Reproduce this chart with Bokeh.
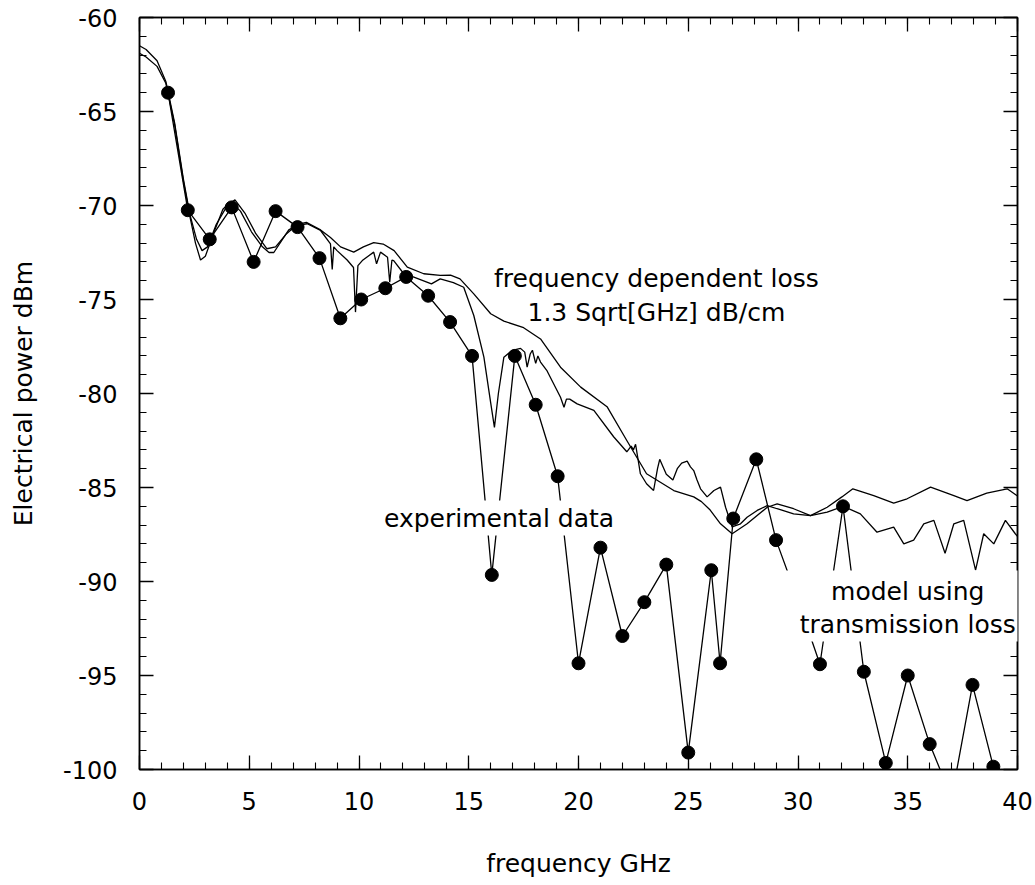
from bokeh.plotting import figure
from bokeh.models import (Range1d, FixedTicker, LinearAxis, Label, BoxAnnotation,
                          CustomJSTickFormatter)
from bokeh.embed import file_html
from bokeh.resources import INLINE

# ---------------- data ----------------
exp_freq = [1.3, 2.2, 3.2, 4.2, 5.2, 6.2, 7.2, 8.2, 9.15, 10.1, 11.2, 12.15, 13.15, 14.15,
            15.15, 16.05, 17.1, 18.05, 19.05, 20.0, 21.0, 22.0, 23.0, 24.0, 25.0, 26.05,
            26.45, 27.05, 28.1, 29.0, 30.0, 31.0, 32.05, 33.0, 34.0, 35.0, 36.0, 37.0,
            37.95, 38.9]
exp_power = [-64.0, -70.25, -71.8, -70.1, -73.0, -70.3, -71.15, -72.8, -76.0, -75.0, -74.4,
             -73.8, -74.8, -76.2, -78.0, -89.65, -78.0, -80.6, -84.4, -94.35, -88.2, -92.9,
             -91.1, -89.1, -99.1, -89.4, -94.35, -86.65, -83.5, -87.8, -91.0, -94.4, -86.0,
             -94.8, -99.65, -95.0, -98.65, -101.5, -95.5, -99.85]

fdl_freq = [0, 0.3, 0.8, 1.2, 1.6, 2.0, 2.3, 2.6, 2.85, 3.1, 3.5, 4.0, 4.35, 4.8, 5.3, 5.8,
            6.2, 6.7, 7.2, 7.6, 8.25, 8.7, 9.16, 9.76, 10.2, 10.67, 11.1, 11.6, 12.2, 12.95,
            13.7, 14.17, 14.6, 15.23, 16.0, 16.6, 17.5, 18.27, 19.18, 20.1, 21.3, 22.2,
            23.1, 24.34, 25.25, 25.6, 26.0, 26.47, 27.0, 27.68, 28.6, 29.05, 29.8, 30.57,
            31.33, 32.0, 32.5, 33.45, 34.36, 34.97, 36.04, 37.1, 37.7, 38.6, 39.53, 40]
fdl_power = [-61.5, -61.7, -62.3, -63.4, -65.6, -68.6, -70.5, -71.8, -72.4, -72.2, -71.0,
             -70.0, -69.7, -70.4, -71.5, -72.3, -72.2, -71.5, -71.0, -70.9, -71.3, -71.7,
             -72.2, -72.48, -72.2, -71.98, -72.05, -72.4, -73.28, -73.63, -73.72, -73.7,
             -73.9, -74.7, -75.76, -76.15, -76.5, -77.1, -78.6, -79.66, -80.7, -82.5,
             -84.27, -85.16, -85.5, -85.75, -86.2, -86.93, -87.46, -86.93, -86.05, -85.87,
             -86.13, -86.5, -86.05, -85.5, -85.07, -85.43, -85.83, -85.6, -84.98, -85.43,
             -85.7, -85.3, -85.07, -85.45]

tl_freq = [0, 0.3, 0.8, 1.2, 1.6, 2.0, 2.3, 2.55, 2.78, 3.0, 3.4, 3.8, 4.15, 4.6, 5.1, 5.6,
           5.9, 6.12, 6.4, 6.8, 7.18, 7.64, 8.25, 8.7, 8.78, 8.85, 9.0, 9.46, 9.75, 9.84,
           9.95, 10.15, 10.67, 10.8, 10.98, 11.3, 11.4, 11.5, 11.58, 12.04, 12.5, 13.3,
           13.7, 14.3, 14.77, 15.23, 15.69, 16.0, 16.17, 16.35, 16.6, 16.98, 17.36, 17.55,
           17.66, 17.8, 17.9, 18.05, 18.15, 18.27, 18.57, 19.18, 19.34, 19.45, 19.6, 19.94,
           20.7, 21.6, 22.2, 22.4, 22.5, 22.6, 22.82, 23.1, 23.42, 23.6, 23.7, 23.85, 24.0,
           24.3, 24.5, 24.7, 24.95, 25.1, 25.25, 25.4, 25.56, 25.86, 26.17, 26.47, 26.7,
           27.0, 27.38, 27.68, 28.14, 28.6, 29.05, 29.8, 30.57, 31.33, 32.06, 32.84, 33.6,
           34.36, 34.82, 35.27, 35.73, 36.19, 36.7, 37.1, 37.55, 38.09, 38.46, 38.92,
           39.45, 39.9, 40]
tl_power = [-61.9, -62.1, -62.6, -63.5, -65.7, -68.7, -70.6, -72.0, -72.9, -72.7, -71.4,
            -70.2, -69.8, -70.3, -71.4, -72.2, -72.5, -72.5, -72.0, -71.3, -71.06, -70.97,
            -71.33, -72.04, -73.4, -72.2, -72.4, -72.9, -73.3, -75.67, -73.2, -72.93,
            -72.48, -73.1, -72.48, -72.75, -74.08, -72.9, -72.93, -73.63, -73.81, -74.17,
            -73.9, -74.1, -74.35, -75.85, -78.07, -80.5, -81.8, -80.0, -78.07, -77.7,
            -77.6, -77.8, -78.6, -77.9, -77.7, -78.4, -78.0, -78.33, -78.8, -80.2, -80.73,
            -80.3, -80.3, -80.55, -80.9, -82.3, -83.1, -82.8, -83.0, -82.7, -84.27, -84.8,
            -85.16, -84.0, -83.5, -83.9, -84.3, -84.6, -84.0, -83.7, -83.6, -83.9, -84.1,
            -84.6, -85.07, -85.5, -85.16, -84.98, -86.05, -87.1, -86.93, -86.58, -86.22,
            -85.96, -86.13, -86.4, -86.5, -86.31, -86.0, -86.4, -87.38, -87.11, -88.0,
            -87.8, -86.93, -86.75, -88.5, -86.93, -86.75, -89.4, -87.46, -88.0, -86.75,
            -87.46, -87.6]

x_major = [0, 5, 10, 15, 20, 25, 30, 35, 40]
y_major = [-100, -95, -90, -85, -80, -75, -70, -65, -60]
y_labels = ["-100", "-95", "-90", "-85", "-80", "-75", "-70", "-65", "-60"]

FONT = "DejaVu Sans"

p = figure(width=1035, height=885, x_range=Range1d(0, 40), y_range=Range1d(-100, -60),
           output_backend="svg", toolbar_location=None,
           min_border_left=139, min_border_right=18, min_border_top=17,
           min_border_bottom=116)
p.xgrid.visible = False
p.ygrid.visible = False
p.outline_line_color = "black"
p.outline_line_width = 1.5
p.background_fill_color = "white"
p.border_fill_color = "white"

xt = FixedTicker(ticks=x_major, minor_ticks=list(range(0, 41)))
yt = FixedTicker(ticks=y_major, minor_ticks=list(range(-100, -59)))


def style_axis(ax):
    ax.axis_line_color = "black"
    ax.axis_line_width = 1.5
    ax.major_tick_in = 14
    ax.major_tick_out = 0
    ax.minor_tick_in = 7
    ax.minor_tick_out = 0
    ax.major_tick_line_color = "black"
    ax.minor_tick_line_color = "black"
    ax.major_tick_line_width = 1.3
    ax.minor_tick_line_width = 1.1
    ax.major_label_text_font = FONT
    ax.major_label_text_font_size = "24px"
    ax.major_label_text_color = "black"
    ax.axis_label_text_font = FONT
    ax.axis_label_text_font_size = "25px"
    ax.axis_label_text_font_style = "normal"
    ax.axis_label_text_color = "black"


p.xaxis.ticker = xt
p.yaxis.ticker = yt
style_axis(p.xaxis[0])
style_axis(p.yaxis[0])
p.yaxis.major_label_overrides = {v: s for v, s in zip(y_major, y_labels)}
p.xaxis.axis_label = "frequency GHz"
p.yaxis.axis_label = "Electrical power dBm"
p.xaxis.major_label_standoff = 22
p.xaxis.axis_label_standoff = 36
p.yaxis.major_label_standoff = 22
p.yaxis.axis_label_standoff = 22

blank = CustomJSTickFormatter(code="return ''")
for loc, tk in (("right", yt), ("above", xt)):
    ax = LinearAxis(ticker=tk, formatter=blank)
    style_axis(ax)
    ax.major_label_text_font_size = "1px"
    ax.major_label_standoff = 0
    p.add_layout(ax, loc)

# model curves
p.line(fdl_freq, fdl_power, line_color="black", line_width=1.3)
p.line(tl_freq, tl_power, line_color="black", line_width=1.3)

# experimental data
p.line(exp_freq, exp_power, line_color="black", line_width=1.3)
p.scatter(exp_freq, exp_power, marker="circle", size=13, fill_color="black",
          line_color="black")

# white masks under the in-plot labels
p.add_layout(BoxAnnotation(left=10.6, right=22.15, bottom=-87.55, top=-85.69,
                           fill_color="white", fill_alpha=1.0, line_alpha=0))
p.add_layout(BoxAnnotation(left=29.2, right=40.6, bottom=-93.19, top=-89.41,
                           fill_color="white", fill_alpha=1.0, line_alpha=0))

labels = [
    (23.55, -73.88, "frequency dependent loss"),
    (23.55, -75.69, "1.3 Sqrt[GHz] dB/cm"),
    (16.38, -86.65, "experimental data"),
    (35.0, -90.53, "model using"),
    (35.0, -92.29, "transmission loss"),
]
for lx, ly, txt in labels:
    p.add_layout(Label(x=lx, y=ly, text=txt, text_align="center",
                       text_baseline="middle", text_font=FONT,
                       text_font_size="25px", text_color="black"))

open("out.html", "w").write(file_html(p, INLINE))
